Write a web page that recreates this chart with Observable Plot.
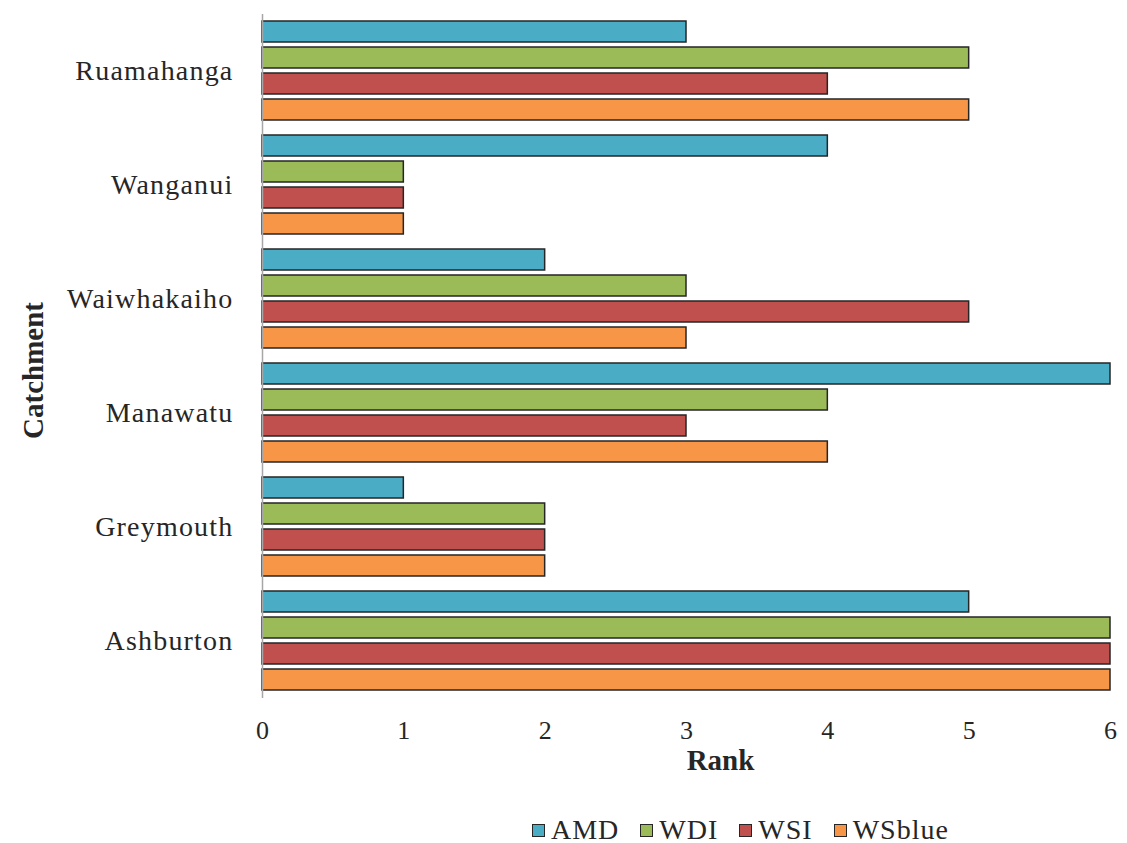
<!DOCTYPE html>
<html>
<head>
<meta charset="utf-8">
<script src="https://cdn.jsdelivr.net/npm/d3@7"></script>
<script src="https://cdn.jsdelivr.net/npm/@observablehq/plot@0.6"></script>
<style>
  body { margin: 0; background: white; }
  #legend { display: flex; align-items: center; margin-left: 532px; margin-top: 26px; font-family: "Liberation Serif", serif; font-size: 28px; letter-spacing: 1px; color: #262626; line-height: 28px; }
  .item { display: flex; align-items: center; margin-right: 21px; }
  .sw { width: 11px; height: 11px; border: 1.5px solid #262626; margin-right: 6px; }
  #chart g[aria-label="fy-axis tick label"] { letter-spacing: 1.2px; }
</style>
</head>
<body>
<div id="chart"></div>
<div id="legend"></div>
<script>
const catchments = ["Ruamahanga", "Wanganui", "Waiwhakaiho", "Manawatu", "Greymouth", "Ashburton"];
const series = ["AMD", "WDI", "WSI", "WSblue"];
const amd    = [3, 4, 2, 6, 1, 5];
const wdi    = [5, 1, 3, 4, 2, 6];
const wsi    = [4, 1, 5, 3, 2, 6];
const wsblue = [5, 1, 3, 4, 2, 6];
const xTicks = [0, 1, 2, 3, 4, 5, 6];
const colors = ["#4BACC6", "#9BBB59", "#C0504D", "#F79646"];
const xTitle = "Rank";
const yTitle = "Catchment";

const values = [amd, wdi, wsi, wsblue];
const data = catchments.flatMap((c, i) => series.map((s, j) => ({catchment: c, series: s, rank: values[j][i]})));

const chart = Plot.plot({
  width: 1127,
  height: 790,
  marginLeft: 262,
  marginRight: 17,
  marginTop: 12,
  marginBottom: 90,
  style: {fontFamily: "Liberation Serif", fontSize: "26px", color: "#262626", background: "white"},
  x: {domain: [0, 6]},
  y: {domain: series, paddingInner: 0.18, paddingOuter: 0.28, axis: null},
  fy: {domain: catchments, padding: 0},
  color: {domain: series, range: colors},
  marks: [
    Plot.barX(data, {x: "rank", y: "series", fy: "catchment", fill: "series", stroke: "#262626", strokeWidth: 1.5}),
    Plot.ruleX([0], {stroke: "#A6A6A6", strokeWidth: 1.5}),
    Plot.axisX({ticks: xTicks, tickSize: 0, tickPadding: 22, tickFormat: d => String(d), label: null, fontSize: 26}),
    Plot.axisFy({anchor: "left", tickSize: 0, tickPadding: 29, label: null, fontSize: 28}),
    Plot.text([xTitle], {fy: () => catchments[catchments.length - 1], frameAnchor: "bottom", dx: 34, dy: 71, fontWeight: "bold", fontSize: 29, fill: "#262626"}),
    Plot.text([yTitle], {fy: () => catchments[3], frameAnchor: "top-left", textAnchor: "middle", dx: -240, dy: 14, rotate: -90, fontWeight: "bold", fontSize: 29, fill: "#262626"})
  ]
});
document.getElementById("chart").appendChild(chart);

const legend = document.getElementById("legend");
series.forEach((s, i) => {
  const item = document.createElement("div");
  item.className = "item";
  const sw = document.createElement("div");
  sw.className = "sw";
  sw.style.background = colors[i];
  const t = document.createElement("span");
  t.textContent = s;
  item.appendChild(sw);
  item.appendChild(t);
  legend.appendChild(item);
});
</script>
</body>
</html>
